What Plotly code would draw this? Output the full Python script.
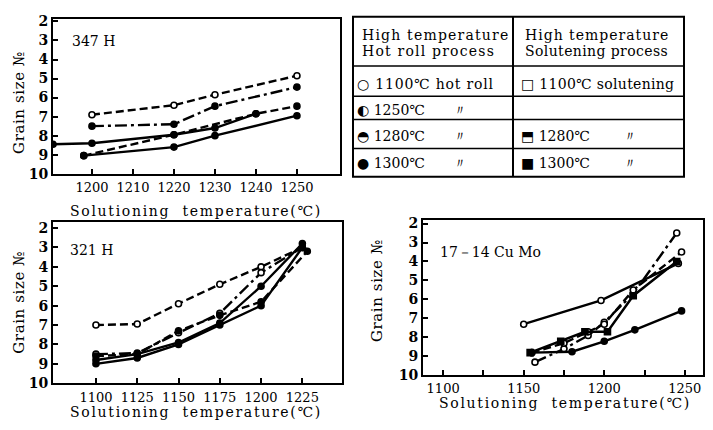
import plotly.graph_objects as go

# ---------------- data ----------------
# 347H
h347_hr1100_x = [1200, 1220, 1230, 1250]
h347_hr1100_y = [6.9, 6.4, 5.85, 4.85]
h347_hr1250_x = [1200, 1220, 1230, 1250]
h347_hr1250_y = [7.5, 7.4, 6.45, 5.45]
h347_hr1280_x = [1198, 1220, 1240, 1250]
h347_hr1280_y = [9.05, 7.95, 6.85, 6.45]
h347_hr1300_x = [1190.5, 1200, 1220, 1230, 1240]
h347_hr1300_y = [8.45, 8.4, 7.95, 7.6, 6.85]
h347_so1300_x = [1198, 1220, 1230, 1250]
h347_so1300_y = [9.05, 8.6, 8.0, 6.95]

# 321H
h321_hr1100_x = [1100, 1125, 1150, 1175, 1200, 1225]
h321_hr1100_y = [7.0, 6.95, 5.9, 4.9, 4.0, 3.0]
h321_hr1250_x = [1100, 1125, 1150, 1175, 1200, 1225]
h321_hr1250_y = [8.5, 8.45, 7.4, 6.4, 4.3, 3.0]
h321_hr1280_x = [1100, 1125, 1150, 1175, 1200, 1228]
h321_hr1280_y = [8.6, 8.5, 7.3, 6.5, 5.8, 3.2]
h321_hr1300_x = [1100, 1125, 1150, 1175, 1200, 1225]
h321_hr1300_y = [8.8, 8.5, 7.9, 6.9, 5.0, 2.8]
h321_so1300_x = [1100, 1125, 1150, 1175, 1200, 1225]
h321_so1300_y = [9.0, 8.7, 8.0, 7.0, 6.0, 3.0]

# 17-14CuMo
cumo_so1100_x = [1150, 1198, 1246]
cumo_so1100_y = [7.3, 6.05, 4.1]
cumo_hr1250_x = [1157, 1175, 1190, 1200, 1218, 1245]
cumo_hr1250_y = [9.3, 8.6, 7.9, 7.2, 5.7, 2.5]
cumo_hr1280_x = [1155, 1175, 1190, 1200, 1218, 1248]
cumo_hr1280_y = [8.8, 8.3, 7.7, 7.3, 5.5, 3.5]
cumo_so1280_x = [1154, 1173, 1188, 1202, 1218, 1245]
cumo_so1280_y = [8.8, 8.2, 7.7, 7.7, 5.8, 4.0]
cumo_hr1300_x = [1155, 1180, 1200, 1219, 1248]
cumo_hr1300_y = [8.8, 8.75, 8.2, 7.6, 6.6]

grain_ticks = [2, 3, 4, 5, 6, 7, 8, 9, 10]
x347_ticks = [1200, 1210, 1220, 1230, 1240, 1250]
x321_ticks = [1100, 1125, 1150, 1175, 1200, 1225]
xcumo_ticks = [1100, 1150, 1200, 1250]

FONT = "DejaVu Serif"
DASH = "8px,4px"
DASHDOT = "12px,4px,3px,4px"
fig = go.Figure()


def add(x, y, xa, ya, dash, symbol, fill):
    fig.add_trace(go.Scatter(
        x=x, y=y, xaxis=xa, yaxis=ya, mode="lines+markers",
        line=dict(color="black", width=2.4, dash=dash),
        marker=dict(symbol=symbol, size=6, color=fill,
                    line=dict(color="black", width=1.6)),
        showlegend=False, hoverinfo="skip"))


# 347H panel
add(h347_hr1100_x, h347_hr1100_y, "x", "y", DASH, "circle", "white")
add(h347_hr1250_x, h347_hr1250_y, "x", "y", DASHDOT, "circle", "black")
add(h347_hr1280_x, h347_hr1280_y, "x", "y", DASH, "circle", "black")
add(h347_hr1300_x, h347_hr1300_y, "x", "y", "solid", "circle", "black")
add(h347_so1300_x, h347_so1300_y, "x", "y", "solid", "circle", "black")
# 321H panel
add(h321_hr1100_x, h321_hr1100_y, "x2", "y2", DASH, "circle", "white")
add(h321_hr1250_x, h321_hr1250_y, "x2", "y2", DASHDOT, "circle", "white")
add(h321_hr1280_x, h321_hr1280_y, "x2", "y2", DASH, "circle", "black")
add(h321_hr1300_x, h321_hr1300_y, "x2", "y2", "solid", "circle", "black")
add(h321_so1300_x, h321_so1300_y, "x2", "y2", "solid", "circle", "black")
# 17-14CuMo panel
add(cumo_so1100_x, cumo_so1100_y, "x3", "y3", "solid", "circle", "white")
add(cumo_hr1250_x, cumo_hr1250_y, "x3", "y3", DASHDOT, "circle", "white")
add(cumo_hr1280_x, cumo_hr1280_y, "x3", "y3", DASH, "circle", "white")
add(cumo_so1280_x, cumo_so1280_y, "x3", "y3", "solid", "square", "black")
add(cumo_hr1300_x, cumo_hr1300_y, "x3", "y3", "solid", "circle", "black")

W, H = 713, 430


def px(x):
    return x / W


def py(y):
    return 1 - y / H


axis_common = dict(showline=True, linewidth=2, linecolor="black", mirror=True,
                   ticks="inside", ticklen=5, tickwidth=1.5, tickcolor="black",
                   showgrid=False, zeroline=False)
xfont = dict(family=FONT, size=13, color="black")
yfont = dict(family=FONT, size=14, color="black", weight="bold")

fig.update_layout(
    width=W, height=H, margin=dict(l=0, r=0, t=0, b=0),
    paper_bgcolor="white", plot_bgcolor="white",
    xaxis=dict(axis_common, domain=[px(53), px(340)], range=[1190.5, 1260.5],
               tickvals=x347_ticks, tickfont=xfont, anchor="y", ticklabelstandoff=1),
    yaxis=dict(axis_common, domain=[py(174), py(14)], range=[10, 1.85],
               tickvals=grain_ticks, tickfont=yfont, anchor="x"),
    xaxis2=dict(axis_common, domain=[px(53), px(342)], range=[1074, 1249],
                tickvals=x321_ticks, tickfont=xfont, anchor="y2", ticklabelstandoff=1),
    yaxis2=dict(axis_common, domain=[py(390), py(224)], range=[10, 1.7],
                tickvals=grain_ticks, tickfont=yfont, anchor="x2"),
    xaxis3=dict(axis_common, domain=[px(423), px(703)], range=[1087.5, 1261.3],
                tickvals=xcumo_ticks, tickfont=xfont, anchor="y3", ticklabelstandoff=0,
                minor=dict(ticks="inside", ticklen=5, tickwidth=1.5, tickcolor="black",
                           tick0=1125, dtick=50)),
    yaxis3=dict(axis_common, domain=[py(382), py(222)], range=[10, 1.83],
                tickvals=grain_ticks, tickfont=yfont, anchor="x3"),
)

ann = []


def text(x, y, s, size=14, xanchor="center", angle=0, spacing=0):
    if spacing:
        s = '<span style="letter-spacing:%.1fpx">%s</span>' % (spacing, s)
    ann.append(dict(x=px(x), y=py(y), xref="paper", yref="paper", text=s,
                    showarrow=False, xanchor=xanchor, yanchor="middle",
                    textangle=angle,
                    font=dict(family=FONT, size=size, color="black")))


# panel labels
text(70, 37, "347 H", 14, "left")
text(68, 253, "321 H", 14, "left")
text(438, 255, "17－14 Cu Mo", 14, "left")
# axis titles
title = "Solutioning  temperature(℃)"
text(196, 212, title, 14, spacing=1.7)
text(196, 420, title, 14, spacing=1.7)
text(565, 410, title, 14, spacing=1.7)
text(19, 101, "Grain size №", 15, angle=-90, spacing=0.6)
text(19, 307, "Grain size №", 15, angle=-90, spacing=0.6)
text(377, 295, "Grain size №", 15, angle=-90, spacing=0.6)

# legend table
text(360, 31, "High temperature", 14, "left", spacing=1.2)
text(360, 47, "Hot roll process", 14, "left", spacing=1.2)
text(523, 31, "High temperature", 14, "left", spacing=1.0)
text(523, 47, "Solutening process", 14, "left", spacing=0.4)
text(355, 81, "○ 1100℃ hot roll", 14, "left", spacing=0.8)
text(355, 108, "◐ 1250℃", 14, "left")
text(355, 135, "◓ 1280℃", 14, "left")
text(355, 163, "● 1300℃", 14, "left")
text(460, 108, "〃", 14)
text(460, 135, "〃", 14)
text(460, 163, "〃", 14)
text(519, 81, "□ 1100℃ solutening", 14, "left", spacing=0.3)
text(519, 135, "⬒ 1280℃", 14, "left")
text(519, 163, "■ 1300℃", 14, "left")
text(630, 135, "〃", 14)
text(630, 163, "〃", 14)
fig.update_layout(annotations=ann)

shapes = [dict(type="rect", xref="paper", yref="paper", x0=px(353), x1=px(684),
               y0=py(177), y1=py(12), line=dict(color="black", width=2))]
shapes.append(dict(type="line", xref="paper", yref="paper", x0=px(513), x1=px(513),
                   y0=py(177), y1=py(12), line=dict(color="black", width=2)))
for yy in [63, 94, 118, 148]:
    shapes.append(dict(type="line", xref="paper", yref="paper", x0=px(353), x1=px(684),
                       y0=py(yy), y1=py(yy), line=dict(color="black", width=1.5)))
fig.update_layout(shapes=shapes)

page_js = ("document.documentElement.style.margin='0px';"
           "document.documentElement.style.overflow='hidden';"
           "document.body.style.margin='0px';"
           "document.body.style.overflow='hidden';")
fig.write_html("out.html", config={"displayModeBar": False}, post_script=page_js)
